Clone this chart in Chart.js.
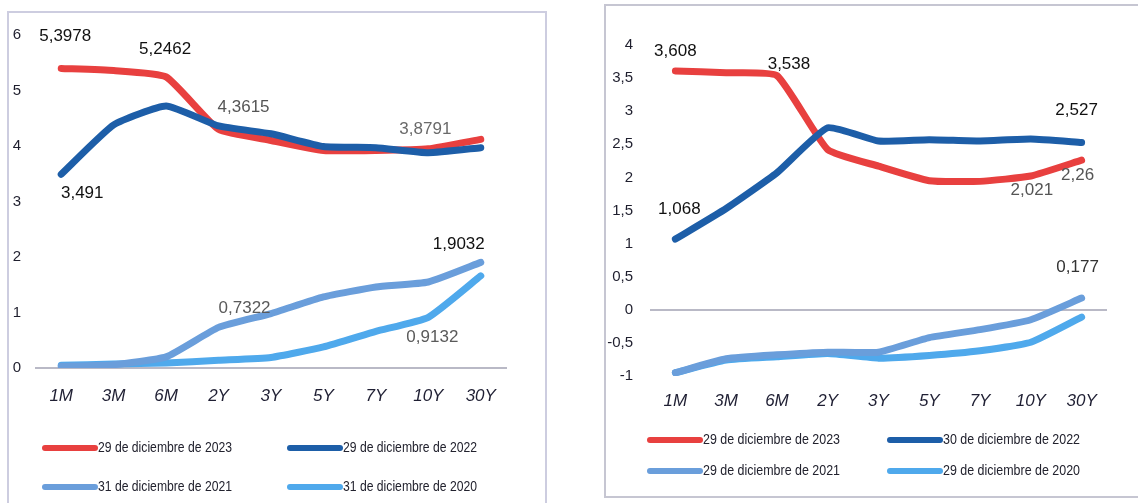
<!DOCTYPE html>
<html><head><meta charset="utf-8">
<script src="https://cdn.jsdelivr.net/npm/chart.js@4.4.0/dist/chart.umd.min.js"></script>
<style>
html,body{margin:0;padding:0;background:#fff;width:1138px;height:503px;overflow:hidden;position:relative}
.frame{position:absolute;border:2px solid #cdcde0;box-sizing:border-box}
.wrap{position:absolute}
</style></head><body>
<div class="frame" style="left:7px;top:11px;width:540px;height:510px"></div>
<div class="frame" style="left:604px;top:4px;width:545px;height:494px;border-color:#c6c6d2"></div>
<div class="wrap" style="left:8px;top:12px;width:537px;height:491px"><canvas id="c1"></canvas></div>
<div class="wrap" style="left:605px;top:5px;width:533px;height:492px"><canvas id="c2"></canvas></div>
<script>
// ---- data ----
const tenors = ['1M','3M','6M','2Y','3Y','5Y','7Y','10Y','30Y'];

// Left chart
const leftLabels = ['29 de diciembre de 2023','29 de diciembre de 2022','31 de diciembre de 2021','31 de diciembre de 2020'];
const left2023 = [5.3978, 5.36, 5.2462, 4.30, 4.10, 3.92, 3.92, 3.95, 4.12];
const left2022 = [3.491, 4.38, 4.72, 4.3615, 4.22, 3.99, 3.97, 3.8791, 3.97];
const left2021 = [0.03, 0.06, 0.20, 0.7322, 0.98, 1.28, 1.46, 1.55, 1.9032];
const left2020 = [0.05, 0.07, 0.09, 0.14, 0.19, 0.38, 0.66, 0.9132, 1.66];
const leftTicks = [0, 1, 2, 3, 4, 5, 6];

// Right chart
const rightLabels = ['29 de diciembre de 2023','30 de diciembre de 2022','29 de diciembre de 2021','29 de diciembre de 2020'];
const right2023 = [3.608, 3.58, 3.538, 2.42, 2.17, 1.95, 1.94, 2.021, 2.26];
const right2022 = [1.068, 1.53, 2.07, 2.75, 2.55, 2.57, 2.55, 2.58, 2.527];
const right2021 = [-0.95, -0.74, -0.68, -0.64, -0.64, -0.42, -0.30, -0.15, 0.177];
const right2020 = [-0.95, -0.76, -0.71, -0.66, -0.73, -0.69, -0.62, -0.49, -0.11];
const rightTicks = [-1, -0.5, 0, 0.5, 1, 1.5, 2, 2.5, 3, 3.5, 4];

// ---- styles ----
const COLORS = ['#e8403f', '#1d5ea8', '#6a9edb', '#4fa9ec'];
const FONT = '"Liberation Sans", Arial, sans-serif';
const fmt = v => String(v).replace('.', ',');

function datasets(labels, arrs){
  return arrs.map((d,k)=>({
    label: labels[k], data: d, borderColor: COLORS[k], backgroundColor: COLORS[k],
    borderWidth: 7, pointRadius: 0, tension: 0.15, borderJoinStyle:'round', borderCapStyle:'round',
    order: [3,1,2,4][k]
  }));
}

// value annotations: which dataset/point, offset and color
const valueLabelPlugin = {
  id:'valueLabels',
  afterDatasetsDraw(chart, args, opts){
    const ctx = chart.ctx;
    ctx.save();
    ctx.font = '17px ' + FONT;
    ctx.textAlign = 'center'; ctx.textBaseline = 'middle';
    (opts.items||[]).forEach(it=>{
      const meta = chart.getDatasetMeta(it.ds);
      const p = meta.data[it.i];
      const v = chart.data.datasets[it.ds].data[it.i];
      ctx.fillStyle = it.color || '#111';
      ctx.fillText(fmt(v), p.x + it.dx, p.y + it.dy);
    });
    ctx.restore();
  }
};

const legendPlugin = {
  id:'gridLegend',
  afterDraw(chart, args, o){
    const ctx = chart.ctx;
    ctx.save();
    chart.data.datasets.forEach((ds,k)=>{
      const col = k % 2, row = Math.floor(k/2);
      const x0 = o.x[col], y = o.y[row];
      ctx.strokeStyle = ds.borderColor; ctx.lineWidth = 6; ctx.lineCap = 'round';
      ctx.beginPath(); ctx.moveTo(x0, y); ctx.lineTo(x0 + o.lineW, y); ctx.stroke();
      ctx.font = '15px ' + FONT;
      ctx.fillStyle = '#22222e'; ctx.textBaseline = 'middle'; ctx.textAlign = 'left';
      const w = ctx.measureText(ds.label).width;
      const tx = x0 + o.lineW + 3;
      ctx.save();
      ctx.translate(tx, y);
      ctx.scale(o.textW / w, 1);
      ctx.fillText(ds.label, 0, 0);
      ctx.restore();
    });
    ctx.restore();
  }
};

function makeChart(id, labels, arrs, ticks, cfg){
  return new Chart(document.getElementById(id), {
    type:'line',
    data:{ labels: tenors, datasets: datasets(labels, arrs) },
    plugins:[valueLabelPlugin, legendPlugin],
    options:{
      responsive:true, maintainAspectRatio:false, animation:false,
      layout:{ padding:{ top: cfg.top, right: cfg.right, left:0, bottom:0 } },
      plugins:{ legend:{display:false}, tooltip:{enabled:false},
        valueLabels:{ items: cfg.items },
        gridLegend: cfg.legend },
      scales:{
        x:{ offset:true,
          grid:{ display:false, drawTicks:false }, border:{display:false},
          ticks:{ padding: cfg.xPad, color:'#1f1f33', font:{ family: FONT, size:17, style:'italic' }, maxRotation:0, autoSkip:false },
          afterFit: s => { s.height = cfg.xH; } },
        y:{ min: ticks[0], max: ticks[ticks.length-1],
          afterBuildTicks: s => { s.ticks = ticks.map(v=>({value:v})); },
          grid:{ drawTicks:false, lineWidth:2, color: c => (c.tick && c.tick.value === 0) ? '#b9b9c6' : 'rgba(0,0,0,0)' },
          border:{display:false},
          ticks:{ padding: cfg.yPad, color:'#1f1f2e', font:{ family: FONT, size:15 }, callback: v => fmt(v) },
          afterFit: s => { s.width = cfg.yW; } }
      }
    }
  });
}

makeChart('c1', leftLabels, [left2023, left2022, left2021, left2020], leftTicks, {
  top:21, right:38, xH:135, xPad:18, yW:27, yPad:14,
  items:[
    {ds:0,i:0,dx:4,dy:-32},
    {ds:0,i:2,dx:-1,dy:-28},
    {ds:1,i:3,dx:25,dy:-19,color:'#555'},
    {ds:1,i:0,dx:21,dy:19},
    {ds:1,i:7,dx:-3,dy:-23,color:'#6a6a6a'},
    {ds:2,i:8,dx:-22,dy:-18},
    {ds:2,i:3,dx:26,dy:-19,color:'#5a5a5a'},
    {ds:3,i:7,dx:4,dy:20,color:'#5a5a5a'}
  ],
  legend:{ x:[37,282], y:[436,475], lineW:50, textW:134 }
});

makeChart('c2', rightLabels, [right2023, right2022, right2021, right2020], rightTicks, {
  top:40, right:31, xH:121, xPad:15, yW:45, yPad:17,
  items:[
    {ds:0,i:0,dx:0,dy:-20},
    {ds:0,i:2,dx:12,dy:-11},
    {ds:1,i:8,dx:-5,dy:-32},
    {ds:0,i:8,dx:-4,dy:15,color:'#555'},
    {ds:0,i:7,dx:1,dy:14,color:'#555'},
    {ds:1,i:0,dx:4,dy:-30},
    {ds:2,i:8,dx:-4,dy:-31,color:'#333'}
  ],
  legend:{ x:[45,285], y:[435,466], lineW:50, textW:137 }
});
</script>
</body></html>
